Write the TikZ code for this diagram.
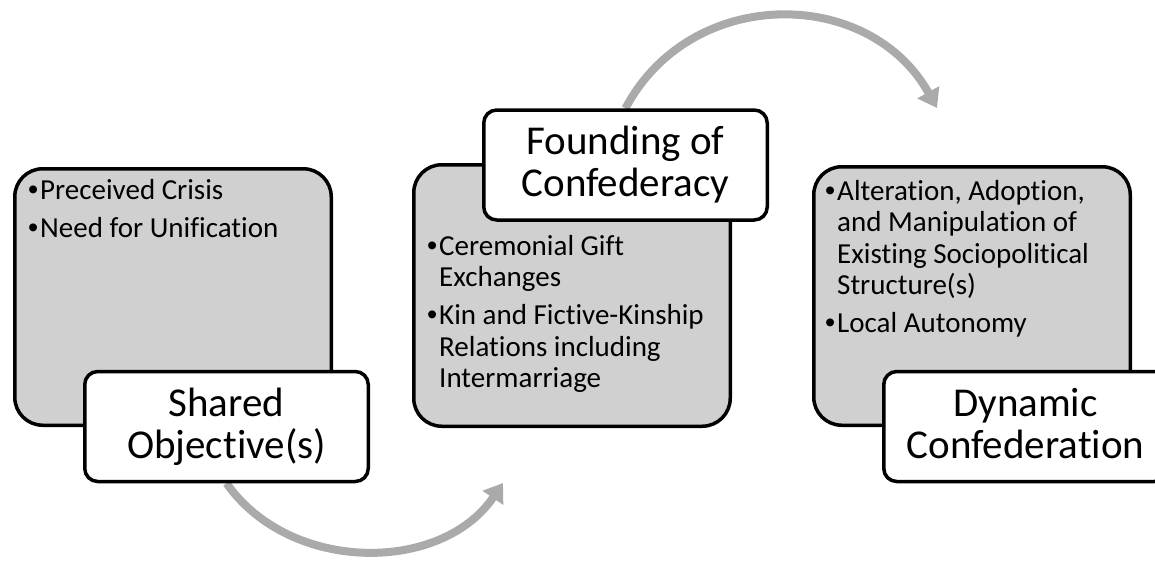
\documentclass[tikz,border=0pt]{standalone}
\usepackage{fontspec}
\setmainfont{Carlito}[Ligatures={NoCommon}]
\newfontfamily\bulletfont{Liberation Sans}
\usetikzlibrary{arrows.meta}
\definecolor{boxgrey}{RGB}{208,208,208}
\definecolor{arrowgrey}{RGB}{170,170,170}
\pgfdeclarelayer{bg}
\pgfsetlayers{bg,main}
\newcommand{\blt}[1]{\hbox{\makebox[12pt][l]{\bulletfont•}#1}}
\newcommand{\cnt}[1]{\hbox{\hspace*{12pt}#1}}
\newcommand{\isep}{\vspace{6.5pt}}
\begin{document}
\begin{tikzpicture}[x=1pt,y=-1pt,
  greybox/.style={draw=black, line width=3.5pt, fill=boxgrey, rounded corners=28pt, rectangle, inner sep=0pt, minimum width=316.5pt},
  labelbox/.style={draw=black, line width=3.5pt, fill=white, rounded corners=13pt, rectangle, inner sep=0pt, minimum width=283.5pt, minimum height=110pt, align=center, font=\fontsize{41}{42}\selectfont},
  listtext/.style={anchor=base west, inner sep=0pt, font=\fontsize{29}{31.5}\selectfont},
  flow/.style={draw=arrowgrey, line width=8pt, -{Triangle[width=24pt,length=18pt]}}
]
\useasboundingbox (0,0) rectangle (1155,562);

% content boxes
\node[greybox, minimum height=256.5pt] (b1) at (173,297) {};
\node[greybox, minimum height=261.5pt] (b2) at (572,295.5) {};
\node[greybox, minimum height=258.5pt] (b3) at (972,296) {};

% bullet texts
\node[listtext] (t1) at (28,199) {\vtop{\blt{Preceived Crisis}\isep\blt{Need for Unification}}};
\node[listtext] (t2) at (427,255) {\vtop{\blt{Ceremonial Gift}\cnt{Exchanges}\isep\blt{Kin and Fictive-Kinship}\cnt{Relations including}\cnt{Intermarriage}}};
\node[listtext] (t3) at (825,200) {\vtop{\blt{Alteration, Adoption,}\cnt{and Manipulation of}\cnt{Existing Sociopolitical}\cnt{Structure(s)}\isep\blt{Local Autonomy}}};

% title labels
\node[labelbox] (l1) at (226.5,426.5) {Shared\\Objective(s)};
\node[labelbox] (l2) at (625.5,165) {Founding of\\Confederacy};
\node[labelbox] (l3) at (1025.5,426.5) {Dynamic\\Confederation\vphantom{j(}};

% arrows
\coordinate (a1e) at (503,483);
\coordinate (a2e) at (937,108);
\begin{pgfonlayer}{bg}
\draw[flow] (l1.south) .. controls +(63,90) and +(-62,91) .. (a1e);
\draw[flow] (l2.north) .. controls +(65,-123) and +(-68,-122) .. (a2e);
\end{pgfonlayer}
\end{tikzpicture}
\end{document}
